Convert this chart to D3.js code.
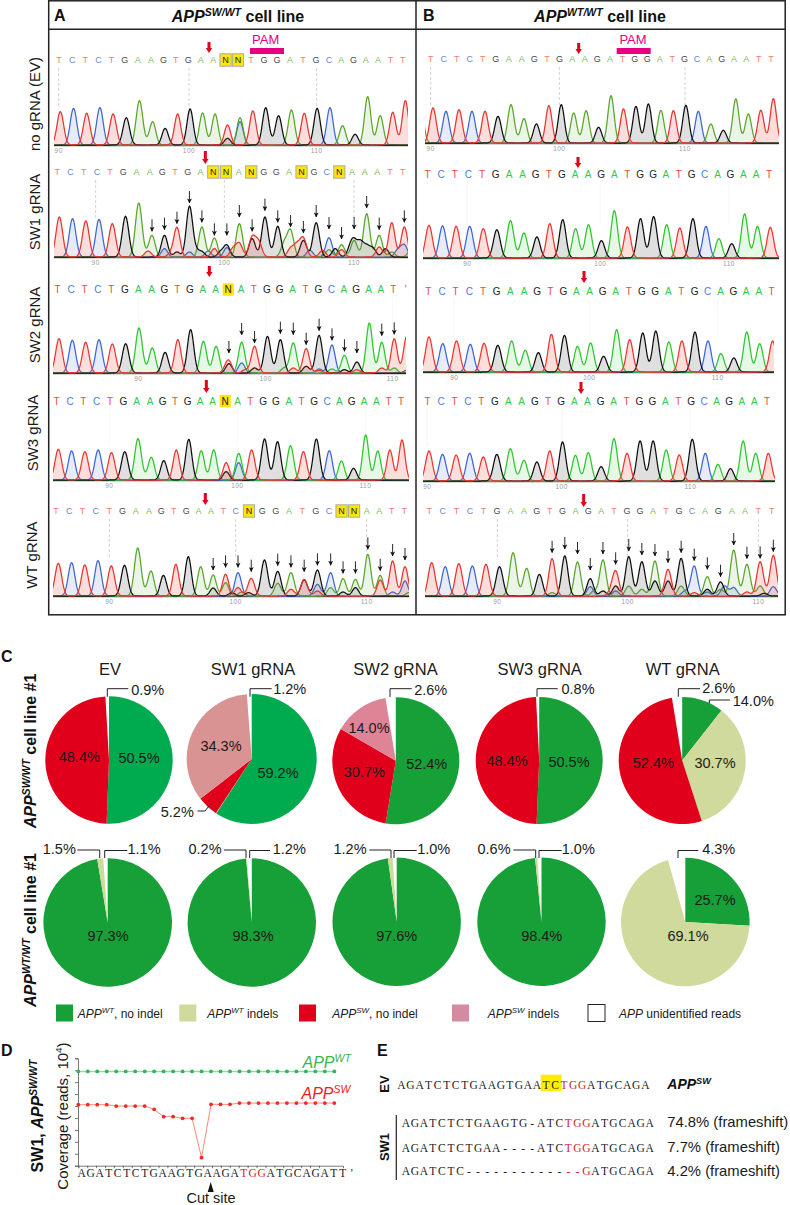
<!DOCTYPE html>
<html><head><meta charset="utf-8">
<script src="https://cdn.jsdelivr.net/npm/d3@7"></script>
<style>html,body{margin:0;padding:0;background:#fff}svg{display:block;font-family:"Liberation Sans",Arial,sans-serif}</style>
</head><body><svg id="c" width="790" height="1205"></svg>
<script>
// ---------- Sequencing traces: displayed calls, main peak base, main peak height, secondary peaks ----------
const seqA1="TCTCTGAAGTGAANNTGGATGCAGAATT", callA1="TCTCTGAAGTGAATCTGGATGCAGAATT";
const hA1=[100,110,95,112,93,82,133,70,50,93,108,96,93,60,70,102,112,88,105,95,110,112,58,32,145,88,98,133];
const exA1=[[13,"G",20],[14,"A",82]];
const seqA2="TCTCTGAAGTGANNANGGANGCNAAATT", callA2="TCTCTGAAGTGAAGATGGATGCAAAATT";
const hA2=[120,115,108,113,100,122,162,65,65,88,150,90,57,35,100,58,120,92,78,55,103,58,37,50,130,65,103,90];
const exA2=[[6.7,"T",18],[8,"C",25],[8.5,"T",10],[9,"G",15],[10,"C",15],[10.5,"G",18],[11,"G",15],[11.5,"C",18],[12,"T",25],[12.5,"G",15],[13,"C",28],[13.5,"T",25],[14,"T",40],[15,"G",55],[15.5,"T",45],[17.5,"A",40],[18,"T",25],[18.5,"T",35],[19,"G",50],[19.5,"C",20],[20.5,"T",20],[21,"A",22],[21.5,"G",25],[22,"T",22],[22.7,"G",25],[23,"G",40],[23.5,"G",42],[24,"G",30],[24.5,"G",25],[25,"T",30],[25.5,"G",25],[26,"A",15],[26.5,"C",22],[27,"C",35],[27.5,"A",18]];
const arrIdxA2=[7,8,9,10,11,12,13,14,15,16,17,18,19,20,21,22,23,24,25,27];
const arrTipA2=[77,82,100,162,104,65,65,120,77,139,104,90,72,120,84,54,84,147,82,104];
const seqA3="TCTCTGAAGTGAANATGGATGCAGAAT'", callA3="TCTCTGAAGTGAAGATGGATGCAGAATT";
const hA3=[103,98,92,100,87,88,135,75,62,100,130,95,80,28,92,80,110,100,90,73,113,84,53,33,150,92,103,110];
const exA3=[[12.8,"T",12],[13,"T",30],[14,"C",30],[14.3,"T",10],[15,"G",15],[17.3,"A",15],[18,"T",15],[19,"G",20],[20,"C",12],[20,"T",8],[21,"A",12],[22,"G",10],[23,"T",10],[25,"T",15],[26,"A",15],[27,"C",8]];
const arrIdxA3=[13,14,15,17,18,19,20,21,22,23,25,26];
const arrTipA3=[60,114,90,118,115,85,127,98,65,60,112,116];
const seqA4="TCTCTGAAGTGAANATGGATGCAGAATT", callA4="TCTCTGAAGTGAATATGGATGCAGAATT";
const hA4=[92,87,85,90,82,85,124,68,58,90,122,88,90,52,80,90,123,115,103,85,123,88,57,35,135,87,90,120];
const exA4=[[13,"G",25],[14,"C",52]];
const seqA5="TCTCTGAAGTGAATCNGGATGCNNAATT", callA5="TCTCTGAAGTGAATCTGGAGGCAAAATT";
const hA5=[98,100,93,106,90,92,144,75,62,95,118,88,63,65,70,53,108,74,70,48,78,70,52,50,125,62,105,88];
const exA5=[[12,"G",24],[13,"A",40],[13.5,"G",10],[14,"T",25],[14.3,"A",12],[14.8,"G",10],[17,"A",38],[18,"T",20],[19,"T",50],[20,"C",35],[20,"T",15],[21,"A",25],[22,"G",12],[23,"G",25],[25,"T",48],[26,"C",12],[27,"C",45],[27.3,"A",10]];
const arrIdxA5=[12,13,14,15,17,18,19,20,21,22,23,24,25,26,27];
const arrTipA5=[78,86,86,73,91,86,73,92,92,68,68,140,76,120,108];
const seqB1="TCTCTGAAGTGAAGATGGATGCAGAATT", callB1=seqB1;
const hB1=[105,95,100,95,95,80,115,73,57,112,115,90,97,47,142,102,110,117,98,97,113,95,57,38,132,87,98,133];
const exB1=[[-1,"A",130]];
const seqB2="TCTCTGAAGTGAAGATGGATGCAGAAT", callB2=seqB2;
const hB2=[98,96,95,95,88,85,112,75,63,103,115,88,100,52,142,93,118,124,100,90,118,95,58,43,132,95,92];
const seqB3=seqB2, callB3=seqB2;
const hB3=[105,85,93,83,86,80,93,65,58,113,110,77,87,47,127,97,117,123,90,93,120,93,55,42,120,85,93];
const seqB4=seqB2, callB4=seqB2;
const hB4=[90,80,78,83,72,80,97,62,57,90,117,77,85,43,127,83,120,120,93,78,125,83,50,37,120,83,83];
const seqB5="TCTCTGAAGTGAGATGGATGCAGAATT", callB5=seqB5;
const hB5=[100,88,97,90,95,88,130,83,65,112,120,102,52,108,73,118,103,105,80,113,90,58,42,138,95,103,122];
const exB5=[[9,"A",10],[12,"C",28],[12.3,"A",15],[13,"G",15],[13.6,"T",12],[14,"G",30],[14,"C",15],[15,"A",30],[16,"A",20],[17,"G",45],[18,"G",45],[19,"A",30],[19.3,"C",15],[20,"T",10],[21,"G",20],[21,"C",12],[22,"A",20],[22.3,"C",30],[23,"C",25],[24,"T",12],[25,"A",30],[25.3,"G",8],[26,"C",28]];
const arrIdxB5=[9,10,11,12,13,14,15,16,17,18,19,20,21,22,23,24,25,26];
const arrTipB5=[130,141,126,78,126,95,135,123,120,100,130,106,80,58,153,112,113,133];

const tickNumbers=[90,100,110];

// ---------- Pie data: [APP-WT no indel, APP-WT indels, APP-SW no indel, APP-SW indels, unidentified] ----------
const pieKeys=["wt","wi","sw","si","un"];
const pieEV1=[50.5,0,48.4,0,0.9], pieSW11=[59.2,0.1,5.2,34.3,1.2], pieSW21=[52.4,0,30.7,14.0,2.6], pieSW31=[50.5,0,48.4,0,0.8], pieWT1=[10.6,34.4,52.4,0,2.6];
const pieEV2=[97.3,1.5,0,0,1.1], pieSW12=[98.3,0.2,0,0,1.2], pieSW22=[97.6,1.2,0,0,1.0], pieSW32=[98.4,0.6,0,0,1.0], pieWT2=[25.7,69.1,0,0,4.3];
const pieTitles=["EV","SW1 gRNA","SW2 gRNA","SW3 gRNA","WT gRNA"];

// ---------- Coverage data ----------
const covBases=d3.range(28);
const covWT=[7.9,7.9,7.9,7.9,7.9,7.9,7.9,7.9,7.9,7.9,7.9,7.9,7.9,7.9,7.9,7.9,7.9,7.9,7.9,7.9,7.9,7.9,7.9,7.9,7.9,7.9,7.9,7.9];
const covSW=[5.11,5.11,5.11,5.11,5.0,5.0,5.0,5.0,4.72,4.11,4.11,3.97,3.97,0.67,5.14,5.14,5.14,5.25,5.25,5.25,5.25,5.25,5.25,5.25,5.25,5.25,5.25,5.25];
const covSeq="AGATCTCTGAAGTGAAGATGGATGCAGATT'";

// ---------- Alignment ----------
const alignEV="AGATCTCTGAAGTGAATCTGGATGCAGA";
const alignSW1=["AGATCTCTGAAGTG-ATCTGGATGCAGA","AGATCTCTGAA----ATCTGGATGCAGA","AGATCTC-------------GATGCAGA"];
const alignPct=["74.8% (frameshift)","7.7% (frameshift)","4.2% (frameshift)"];

// ---------- helpers ----------
const svg=d3.select("#c");
const z=v=>v/3;
const rich=(g,x,y,parts,o={})=>{
  const t=g.append("text").attr("x",x).attr("y",y).attr("font-size",o.size||14).attr("fill",o.fill||"#1a1a1a").attr("text-anchor",o.anchor||"start");
  if(o.rot!==undefined) t.attr("transform",`rotate(${o.rot} ${x} ${y})`);
  let shifted=false;
  parts.forEach(p=>{
    const s=t.append("tspan").text(p.t);
    if(p.i) s.attr("font-style","italic");
    if(p.b||o.bold) s.attr("font-weight","bold");
    if(p.sup){s.attr("font-size",(o.size||14)*0.66).attr("dy",-(o.size||14)*0.38);shifted=true;}
    else if(shifted){s.attr("dy",(o.size||14)*0.38);shifted=false;}
  });
  return t;
};
const line=(g,pts,col="#222",w=1)=>g.append("path").attr("d",d3.line()(pts)).attr("fill","none").attr("stroke",col).attr("stroke-width",w);

// ---------- frames ----------
const frame=svg.append("g");
frame.append("rect").attr("x",48.7).attr("y",0.8).attr("width",736.5).attr("height",614).attr("fill","none").attr("stroke","#222").attr("stroke-width",1.5);
line(frame,[[48.7,29.2],[785,29.2]],"#222",1.4);
line(frame,[[416,0.8],[416,615]],"#222",1.5);
rich(frame,54,21,[{t:"A"}],{size:16,bold:true,fill:"#111"});
rich(frame,423,21,[{t:"B"}],{size:16,bold:true,fill:"#111"});
rich(frame,238,22,[{t:"APP",i:1},{t:"SW/WT",i:1,sup:1},{t:" cell line"}],{size:16,bold:true,anchor:"middle",fill:"#111"});
rich(frame,600,22,[{t:"APP",i:1},{t:"WT/WT",i:1,sup:1},{t:" cell line"}],{size:16,bold:true,anchor:"middle",fill:"#111"});
[["no gRNA (EV)",40,104],["SW1 gRNA",40,212],["SW2 gRNA",40,325],["SW3 gRNA",38,433],["WT gRNA",37,555]].forEach(d=>{
  rich(frame,d[1],d[2],[{t:d[0]}],{size:15,rot:-90,anchor:"middle"});
});

// ---------- traces ----------
const soft={T:"#ee7f78",C:"#6d88cf",A:"#7dba58",G:"#4a4a4a","'":"#ee7f78"}, vivid={T:"#ee4a42",C:"#4c7ae0",A:"#35c652",G:"#222","'":"#ee4a42"};
const olive={T:"#e8342e",C:"#3f68c8",A:"#58a62c",G:"#111"}, bright={T:"#ee3630",C:"#3a66d8",A:"#2ec52f",G:"#111"};
const fillOp={T:.17,C:.13,A:.12,G:.2};
const traces=[
 {seq:seqA1,call:callA1,h:hA1,ex:exA1,base:145,lY:60,tY:152.5,dash:1,x0:54,x1:408,peak:[181,458,720,990,1216],let:[177,453,714,987,1208],tick:[176,567,950],boxes:1,red:[627,53,42],pal:soft,col:olive,fs:9},
 {seq:seqA2,call:callA2,h:hA2,ex:exA2,base:257,lY:172,tY:264.5,dash:1,x0:54,x1:408,peak:[178,456,718,987,1213],let:[172,449,716,980,1208],tick:[287,673,1062],boxes:1,red:[616,164,151],pal:soft,col:olive,fs:9,ai:arrIdxA2,at:arrTipA2},
 {seq:seqA3,call:callA3,h:hA3,ex:exA3,base:373,lY:289.5,tY:381,dash:0,x0:53,x1:406,peak:[177,457,725,996,1220],let:[173,455,723,994,1217],tick:[415,797,1178],boxes:0,red:[628,277,266],pal:vivid,col:bright,fs:10,ai:arrIdxA3,at:arrTipA3},
 {seq:seqA4,call:callA4,h:hA4,ex:exA4,base:480,lY:401,tY:488,dash:0,x0:53,x1:409,peak:[175,454,716,988,1206],let:[170,450,713,981,1203],tick:[328,712,1096],boxes:0,red:[619,393,380],pal:vivid,col:bright,fs:10},
 {seq:seqA5,call:callA5,h:hA5,ex:exA5,base:596,lY:511,tY:604,dash:1,x0:53,x1:409,peak:[175,453,714,992,1215],let:[168,447,707,987,1213],tick:[328,707,1100],boxes:1,red:[616,505,493],pal:soft,col:olive,fs:9,ai:arrIdxA5,at:arrTipA5},
 {seq:seqB1,call:callB1,h:hB1,ex:exB1,base:143,lY:59,tY:151,dash:1,x0:425,x1:779,dx:415,peak:[54,327,588,850,1075],let:[47,320,585,846,1068],tick:[47,433,810],boxes:0,red:[491,54,43],pal:soft,col:olive,fs:9},
 {seq:seqB2,call:callB2,h:hB2,ex:[],base:258,lY:174,tY:266,dash:0,x0:423,x1:779,dx:415,peak:[42,327,598,873,1066],let:[38,323,598,869,1062],tick:[157,556,942],boxes:0,red:[489,168,157],pal:vivid,col:bright,fs:10},
 {seq:seqB3,call:callB3,h:hB3,ex:[],base:372,lY:291,tY:380,dash:0,x0:423,x1:774,dx:415,peak:[42,331,605,879,1073],let:[40,327,602,878,1070],tick:[118,523,908],boxes:0,red:[507,283,271],pal:vivid,col:bright,fs:10},
 {seq:seqB4,call:callB4,h:hB4,ex:[],base:481,lY:401,tY:488.5,dash:0,x0:423,x1:775,dx:415,peak:[42,327,597,871,1060],let:[38,320,596,867,1056],tick:[37,440,826],boxes:0,red:[498,394,382],pal:vivid,col:bright,fs:10},
 {seq:seqB5,call:callB5,h:hB5,ex:exB5,base:596,lY:511,tY:603.5,dash:1,x0:425,x1:778,dx:415,peak:[50,335,602,877,1075],let:[43,327,597,870,1070],tick:[247,638,1030],boxes:0,red:[506,507,494],pal:soft,col:olive,fs:9,ai:arrIdxB5,at:arrTipB5}
];
const defs=svg.append("defs");
defs.append("filter").attr("id","soft").append("feGaussianBlur").attr("stdDeviation",0.3);
defs.append("marker").attr("id","ah").attr("viewBox","0 0 6 6").attr("refX",5.5).attr("refY",3).attr("markerWidth",5).attr("markerHeight",5).attr("markerUnits","userSpaceOnUse").attr("orient","auto")
  .append("path").attr("d","M0,0L6,3L0,6L1.5,3Z").attr("fill","#111");
const sigma=0.25;
traces.forEach((T,ti)=>{
  const dx=T.dx||0, n=T.call.length;
  const kn=n===28?[0,7,14,21,27]:[0,7,14,21,26];
  const xP=d3.scaleLinear().domain(kn).range(T.peak.map(v=>dx+z(v)));
  const xL=d3.scaleLinear().domain(kn).range(T.let.map(v=>dx+z(v)));
  const y=d3.scaleLinear().domain([0,150]).range([T.base,T.base-50]);
  const g=svg.append("g");
  const cid="clip"+ti;
  defs.append("clipPath").attr("id",cid).append("rect").attr("x",T.x0).attr("y",T.base-70).attr("width",T.x1-T.x0).attr("height",72);
  // guide lines + tick labels
  tickNumbers.forEach((num,i)=>{
    const X=dx+z(T.tick[i]);
    g.append("line").attr("x1",X).attr("x2",X).attr("y1",T.lY+8).attr("y2",T.dash?T.base-37:T.base-35)
      .attr("stroke",T.dash?"#d4d4d4":"#eaeaea").attr("stroke-width",T.dash?1:.8).attr("stroke-dasharray",T.dash?"3 2":"1 1");
    g.append("text").attr("x",X).attr("y",T.tY).attr("text-anchor","middle").attr("font-size",6.5).attr("fill","#999").attr("letter-spacing",.5).text(num);
  });
  // peaks
  const peaks=[];
  T.h.forEach((v,i)=>peaks.push([i,T.call[i],v]));
  (T.ex||[]).forEach(e=>peaks.push(e));
  const grid=d3.range(-1.6,n+1.2,0.03);
  const tr=g.append("g").attr("clip-path",`url(#${cid})`).append("g").attr("filter","url(#soft)");
  line(tr,[[T.x0,T.base+.7],[T.x1,T.base+.7]],"#333",1);
  ["C","A","G","T"].forEach(ch=>{
    const list=peaks.filter(p=>p[1]===ch);
    const pts=grid.map(u=>[u,d3.sum(list,p=>p[2]*Math.exp(-((u-p[0])**2)/(2*sigma*sigma)))]);
    tr.append("path").attr("d",d3.area().x(d=>xP(d[0])).y0(T.base).y1(d=>y(d[1]))(pts)).attr("fill",ch==="G"?"#666":T.col[ch]).attr("fill-opacity",fillOp[ch]);
    tr.append("path").attr("d",d3.line().x(d=>xP(d[0])).y(d=>y(d[1]))(pts)).attr("fill","none").attr("stroke",T.col[ch]).attr("stroke-width",1.25);
  });
  // letters
  T.seq.split("").forEach((c,i)=>{
    const X=xL(i);
    if(c==="N"){
      g.append("rect").attr("x",X-5.6).attr("y",T.lY-6.2).attr("width",11.2).attr("height",12.4).attr("fill","#ffe600").attr("stroke",T.boxes?"#aaa":"none").attr("stroke-width",1);
    }
    g.append("text").attr("x",X).attr("y",T.lY+T.fs*0.36).attr("text-anchor","middle").attr("font-size",T.fs).attr("fill",c==="N"?"#222":T.pal[c]).text(c);
  });
  // red cut arrow
  const rx=dx+z(T.red[0]), tip=T.red[1], top=T.red[2];
  g.append("path").attr("d",d3.line()([[rx-1.5,top],[rx+1.5,top],[rx+1.5,tip-5],[rx+3.2,tip-5],[rx,tip],[rx-3.2,tip-5],[rx-1.5,tip-5]])+"Z").attr("fill","#e2001a");
  // black arrows
  (T.ai||[]).forEach((idx,k)=>{
    const X=xP(idx), Y=y(T.at[k]);
    g.append("line").attr("x1",X).attr("x2",X).attr("y1",Y-12).attr("y2",Y).attr("stroke","#111").attr("stroke-width",.9).attr("marker-end","url(#ah)");
  });
});

// PAM
[[265.7,250,284],[633,616.7,650.7]].forEach(d=>{
  svg.append("text").attr("x",d[0]).attr("y",44).attr("text-anchor","middle").attr("font-size",13).attr("fill","#e6007e").text("PAM");
  svg.append("rect").attr("x",d[1]).attr("y",48).attr("width",d[2]-d[1]).attr("height",6).attr("fill","#e6007e");
});

// ---------- Panel C ----------
rich(svg,1,662,[{t:"C"}],{size:16,bold:true,fill:"#111"});
const pc={wt:"#17a038",wi:"#d0da9c",sw:"#e1001b",si:"#d48aa0",un:"none"};
const bright1="#00ab4f";
const pies=[
 {v:pieEV1,x:109,y:760,r:63.7,wt:bright1},{v:pieSW11,x:251.7,y:759,r:65,wt:bright1,si:"#d99393"},{v:pieSW21,x:395.8,y:760.7,r:63.5,si:"#dd8597"},{v:pieSW31,x:539.2,y:760.5,r:63.5},{v:pieWT1,x:682.2,y:760.5,r:63.5},
 {v:pieEV2,x:107.7,y:922.5,r:64.3},{v:pieSW12,x:251.8,y:922.5,r:64.2},{v:pieSW22,x:396.7,y:921.8,r:64.2},{v:pieSW32,x:541.5,y:921.8,r:64.2},{v:pieWT2,x:685.3,y:922,r:64.3}
];
const pg=svg.append("g");
const pieGen=d3.pie().sort(null).value(d=>d.v);
pies.forEach(p=>{
  const data=pieKeys.map((k,i)=>({k,v:p.v[i]}));
  const g=pg.append("g").attr("transform",`translate(${p.x},${p.y})`);
  const arc=d3.arc().innerRadius(0).outerRadius(p.r);
  g.selectAll("path").data(pieGen(data)).join("path").attr("d",arc).attr("fill",d=>p[d.data.k]||pc[d.data.k]);
});
pieTitles.forEach((t,i)=>{
  pg.append("text").attr("x",[110,253,395.5,539.7,682.7][i]).attr("y",675).attr("text-anchor","middle").attr("font-size",16.5).attr("fill","#1a1a1a").text(t);
});
const pieText=[["48.4%",79.3,756.7],["50.5%",139,757.3],["34.3%",221,745.3],["59.2%",278,772.7],["5.2%",177.3,812],["14.0%",369,727.3],["30.7%",364.3,771.3],["52.4%",426.7,764],["48.4%",507,760.7],["50.5%",569,761.3],["52.4%",653.3,763],["30.7%",715,763],
 ["0.9%",147.7,690],["1.2%",289.7,688.7],["2.6%",430.7,690],["0.8%",578,688.7],["2.6%",718.7,687.3],["14.0%",753.3,700.7],
 ["97.3%",108,935.7],["98.3%",253,935.7],["97.6%",396.7,936],["98.4%",541.7,935.7],["25.7%",715,899.7],["69.1%",688,935.7],
 ["1.5%",59.3,849],["1.1%",144,849],["0.2%",205,849],["1.2%",289.3,849],["1.2%",350,849],["1.0%",433.7,849],["0.6%",494,849],["1.0%",578.3,849],["4.3%",718.7,849]];
pieText.forEach(d=>pg.append("text").attr("x",d[1]).attr("y",d[2]).attr("dy",".36em").attr("text-anchor","middle").attr("font-size",14.5).attr("fill","#1a1a1a").text(d[0]));
const leaders=[
 [[107.3,696.7],[107.3,688.7],[128.3,688.7]],[[250,696.7],[250,688.7],[271.7,688.7]],[[390,697],[390,688.7],[411.7,688.7]],[[537,696.7],[537,688.7],[557.7,688.7]],[[678.3,696.7],[678.3,688.7],[700,688.7]],[[709.3,703.3],[709.3,700],[730,700]],
 [[197.5,811],[205,811],[209,806]],
 [[77.3,850],[99.7,850],[99.7,858]],[[127.3,850.5],[104.7,850.5],[104.7,858]],[[224,850],[246,850],[246,858]],[[270,850.5],[249.7,850.5],[249.7,858]],[[369.3,850],[391,850],[391,858]],[[416.7,850.5],[394,850.5],[394,858]],[[513.3,850],[535.7,850],[535.7,858]],[[561.7,850.5],[539,850.5],[539,858]],[[698.3,850.5],[678,850.5],[678,858]]];
leaders.forEach(l=>line(pg,l,"#222",1));
rich(pg,36,751,[{t:"APP",i:1},{t:"SW/WT",i:1,sup:1},{t:" cell line #1"}],{size:16,bold:true,rot:-90,anchor:"middle",fill:"#111"});
rich(pg,36,930,[{t:"APP",i:1},{t:"WT/WT",i:1,sup:1},{t:" cell line #1"}],{size:16,bold:true,rot:-90,anchor:"middle",fill:"#111"});
// legend
const legend=[
 {c:pc.wt,x:56,tx:77.7,p:[{t:"APP",i:1},{t:"WT",i:1,sup:1},{t:", no indel"}]},
 {c:pc.wi,x:179.3,tx:207.3,p:[{t:"APP",i:1},{t:"WT",i:1,sup:1},{t:" indels"}]},
 {c:pc.sw,x:299,tx:332.3,p:[{t:"APP",i:1},{t:"SW",i:1,sup:1},{t:", no indel"}]},
 {c:pc.si,x:452,tx:487.7,p:[{t:"APP",i:1},{t:"SW",i:1,sup:1},{t:" indels"}]},
 {c:"#fff",x:588,tx:619,s:1,p:[{t:"APP",i:1},{t:" unidentified reads"}]}];
legend.forEach(d=>{
  pg.append("rect").attr("x",d.x).attr("y",1004.5).attr("width",17).attr("height",17).attr("fill",d.c).attr("stroke",d.s?"#222":"none").attr("stroke-width",1);
  rich(pg,d.tx,1018,d.p,{size:12});
});

// ---------- Panel D ----------
rich(svg,1,1056,[{t:"D"}],{size:16,bold:true,fill:"#111"});
const dg=svg.append("g");
const xD=d3.scaleLinear().domain([0,27]).range([78.3,334.3]);
const yD=d3.scaleLinear().domain([0,9]).range([1165.7,1058.3]);
dg.append("g").attr("transform","translate(78,0)").call(d3.axisLeft(yD).ticks(9).tickSize(3).tickFormat("")).call(s=>{s.selectAll("path,line").attr("stroke","#555").attr("stroke-width",.8);});
dg.append("g").attr("transform","translate(0,1165.7)").call(d3.axisBottom(d3.scaleLinear().domain([0,29.7]).range([78.3,343])).tickValues(covBases).tickSize(2.5).tickFormat("")).call(s=>{s.selectAll("path,line").attr("stroke","#555").attr("stroke-width",.8);});
[[covWT,"#9ad6a6","#2fb457",1.5],[covSW,"#f58a78","#ee2a24",1]].forEach(([vals,lc,dc,w])=>{
  dg.append("path").attr("d",d3.line().x((d,i)=>xD(i)).y(d=>yD(d))(vals)).attr("fill","none").attr("stroke",lc).attr("stroke-width",w);
  dg.selectAll(null).data(vals).join("circle").attr("cx",(d,i)=>xD(i)).attr("cy",d=>yD(d)).attr("r",1.9).attr("fill",dc);
});
rich(dg,302.5,1068,[{t:"APP",i:1},{t:"WT",i:1,sup:1}],{size:16,fill:"#3ab54a"});
rich(dg,301.5,1099,[{t:"APP",i:1},{t:"SW",i:1,sup:1}],{size:16,fill:"#ed1c24"});
const serif='"Liberation Serif",serif';
covSeq.split("").forEach((c,i)=>{
  dg.append("text").attr("x",z(245+27*i)).attr("y",1176.5).attr("text-anchor","middle").attr("font-size",11.5).attr("font-family",serif).attr("fill",(i>=18&&i<=20)?"#d3232a":"#222").text(c);
});
rich(dg,68,1116,[{t:"Coverage (reads, 10"},{t:"4",sup:1},{t:")"}],{size:15,rot:-90,anchor:"middle"});
rich(dg,43,1116,[{t:"SW1, "},{t:"APP",i:1},{t:"SW/WT",i:1,sup:1}],{size:16,bold:true,rot:-90,anchor:"middle",fill:"#111"});
dg.append("path").attr("d",d3.line()([[210.7,1182],[213.7,1192],[207.7,1192]])+"Z").attr("fill","#111");
rich(dg,211,1203,[{t:"Cut site"}],{size:14.5,anchor:"middle"});

// ---------- Panel E ----------
rich(svg,377,1056,[{t:"E"}],{size:16,bold:true,fill:"#111"});
const eg=svg.append("g");
const drawSeq=(s,x0,y,redFn)=>s.split("").forEach((c,i)=>{
  eg.append("text").attr("x",x0+9.03*i).attr("y",y).attr("text-anchor","middle").attr("font-size",11.5).attr("font-family",serif).attr("fill",redFn(i)?"#d3232a":"#222").text(c);
});
eg.append("rect").attr("x",540.7).attr("y",1074.7).attr("width",21).attr("height",16.3).attr("fill","#ffed00");
drawSeq(alignEV,401.5,1088.7,i=>i>=18&&i<=20);
[1126.7,1151.7,1175].forEach((y,k)=>drawSeq(alignSW1[k],405.8,y,i=>i>=18&&i<=20));
rich(eg,667.3,1089.3,[{t:"APP",i:1},{t:"SW",i:1,sup:1}],{size:14,bold:true,fill:"#111"});
alignPct.forEach((t,k)=>rich(eg,667.3,[1127,1152,1175.5][k],[{t}],{size:14.8}));
line(eg,[[396.3,1115],[396.3,1180]],"#222",1.2);
rich(eg,389,1084,[{t:"EV"}],{size:13,bold:true,rot:-90,anchor:"middle",fill:"#111"});
rich(eg,389,1147,[{t:"SW1"}],{size:13,bold:true,rot:-90,anchor:"middle",fill:"#111"});
</script></body></html>
